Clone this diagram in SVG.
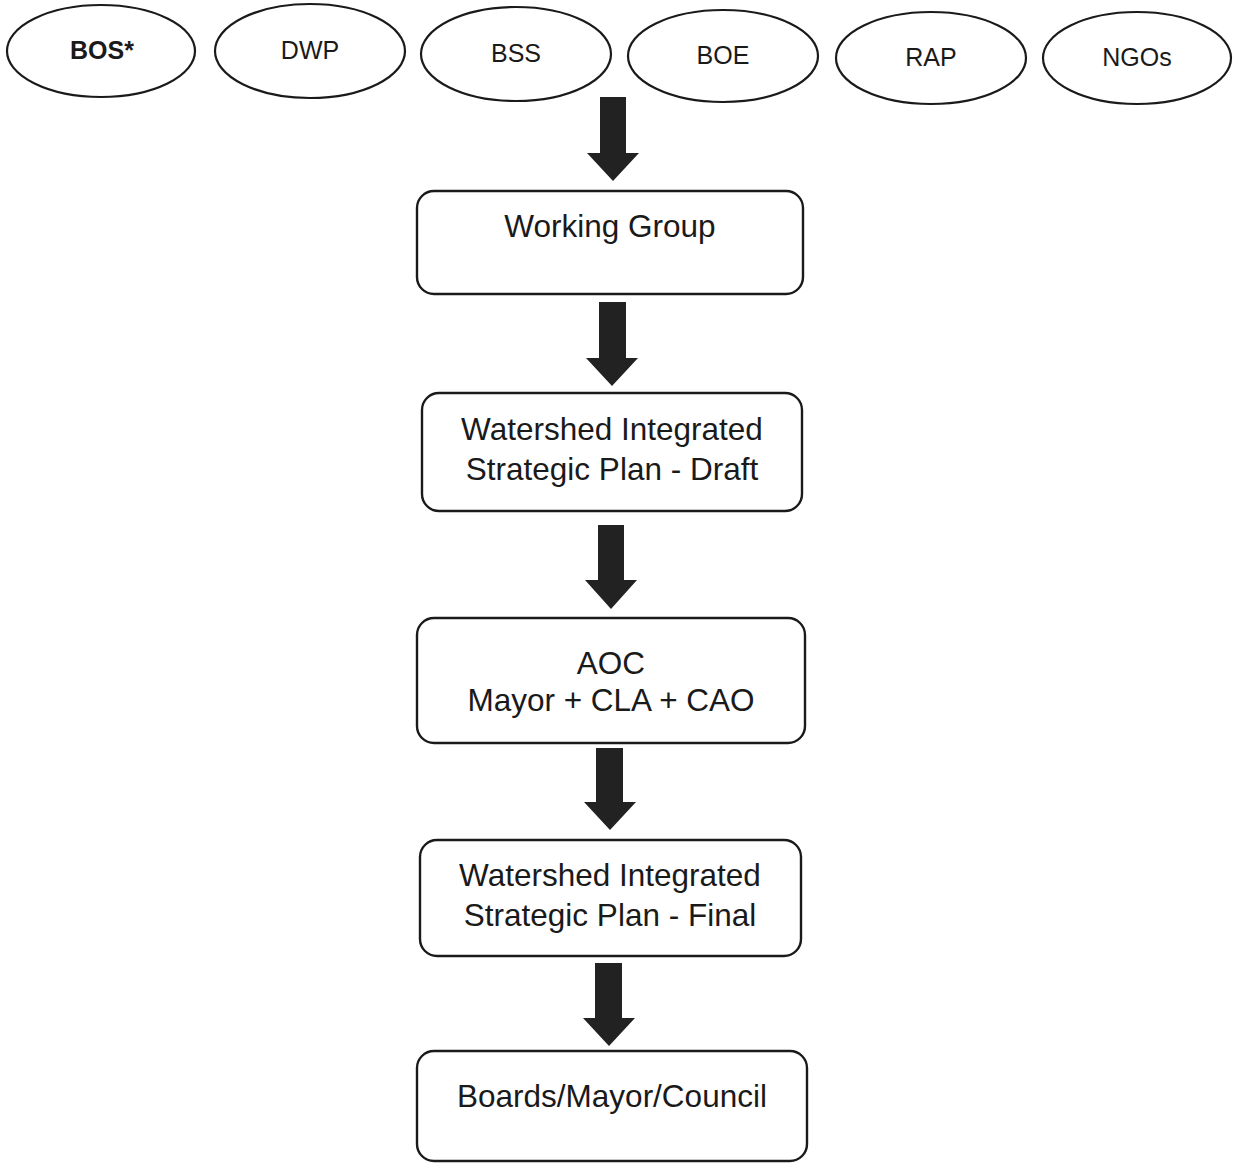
<svg xmlns="http://www.w3.org/2000/svg" width="1233" height="1164" viewBox="0 0 1233 1164">
<style>
.bg{fill:#ffffff}
.ell{fill:#ffffff;stroke:#1a1a1a;stroke-width:2.2}
.box{fill:#ffffff;stroke:#1a1a1a;stroke-width:2.4}
.et{font-family:"Liberation Sans",Arial,sans-serif;font-size:25px;fill:#1a1a1a;text-anchor:middle}
.bold{font-weight:bold}
.bt{font-family:"Liberation Sans",Arial,sans-serif;font-size:31.5px;fill:#1a1a1a;text-anchor:middle}
.arr{fill:#222222;stroke:none}
</style>
<rect class="bg" x="0" y="0" width="1233" height="1164"/>
<g id="node-bos">
<ellipse class="ell" cx="101" cy="51" rx="94" ry="46"/>
<text class="et bold" x="102" y="59">BOS*</text>
</g>
<g id="node-dwp">
<ellipse class="ell" cx="310" cy="51" rx="95" ry="47"/>
<text class="et" x="310" y="59">DWP</text>
</g>
<g id="node-bss">
<ellipse class="ell" cx="516" cy="54" rx="95" ry="47"/>
<text class="et" x="516" y="62">BSS</text>
</g>
<g id="node-boe">
<ellipse class="ell" cx="723" cy="56" rx="95" ry="46"/>
<text class="et" x="723" y="64">BOE</text>
</g>
<g id="node-rap">
<ellipse class="ell" cx="931" cy="58" rx="95" ry="46"/>
<text class="et" x="931" y="66">RAP</text>
</g>
<g id="node-ngos">
<ellipse class="ell" cx="1137" cy="58" rx="94" ry="46"/>
<text class="et" x="1137" y="66">NGOs</text>
</g>
<g id="node-working-group">
<rect class="box" x="417" y="191" width="386" height="103" rx="17"/>
<text class="bt" x="610" y="237">Working Group</text>
</g>
<g id="node-draft">
<rect class="box" x="422" y="393" width="380" height="118" rx="17"/>
<text class="bt" x="612" y="440">Watershed Integrated</text>
<text class="bt" x="612" y="480">Strategic Plan - Draft</text>
</g>
<g id="node-aoc">
<rect class="box" x="417" y="618" width="388" height="125" rx="17"/>
<text class="bt" x="611" y="674">AOC</text>
<text class="bt" x="611" y="711">Mayor + CLA + CAO</text>
</g>
<g id="node-final">
<rect class="box" x="420" y="840" width="381" height="116" rx="17"/>
<text class="bt" x="610" y="886">Watershed Integrated</text>
<text class="bt" x="610" y="926">Strategic Plan - Final</text>
</g>
<g id="node-boards">
<rect class="box" x="417" y="1051" width="390" height="110" rx="17"/>
<text class="bt" x="612" y="1107">Boards/Mayor/Council</text>
</g>
<g id="connectors">
<polygon class="arr" points="600,97 626,97 626,153 639,153 613,181 587,153 600,153"/>
<polygon class="arr" points="599,302 626,302 626,358 638,358 612,386 586,358 599,358"/>
<polygon class="arr" points="598,525 624,525 624,580 637,580 611,609 585,580 598,580"/>
<polygon class="arr" points="596,748 623,748 623,802 636,802 610,830 584,802 596,802"/>
<polygon class="arr" points="595,963 622,963 622,1018 635,1018 609,1046 583,1018 595,1018"/>
</g>
</svg>
